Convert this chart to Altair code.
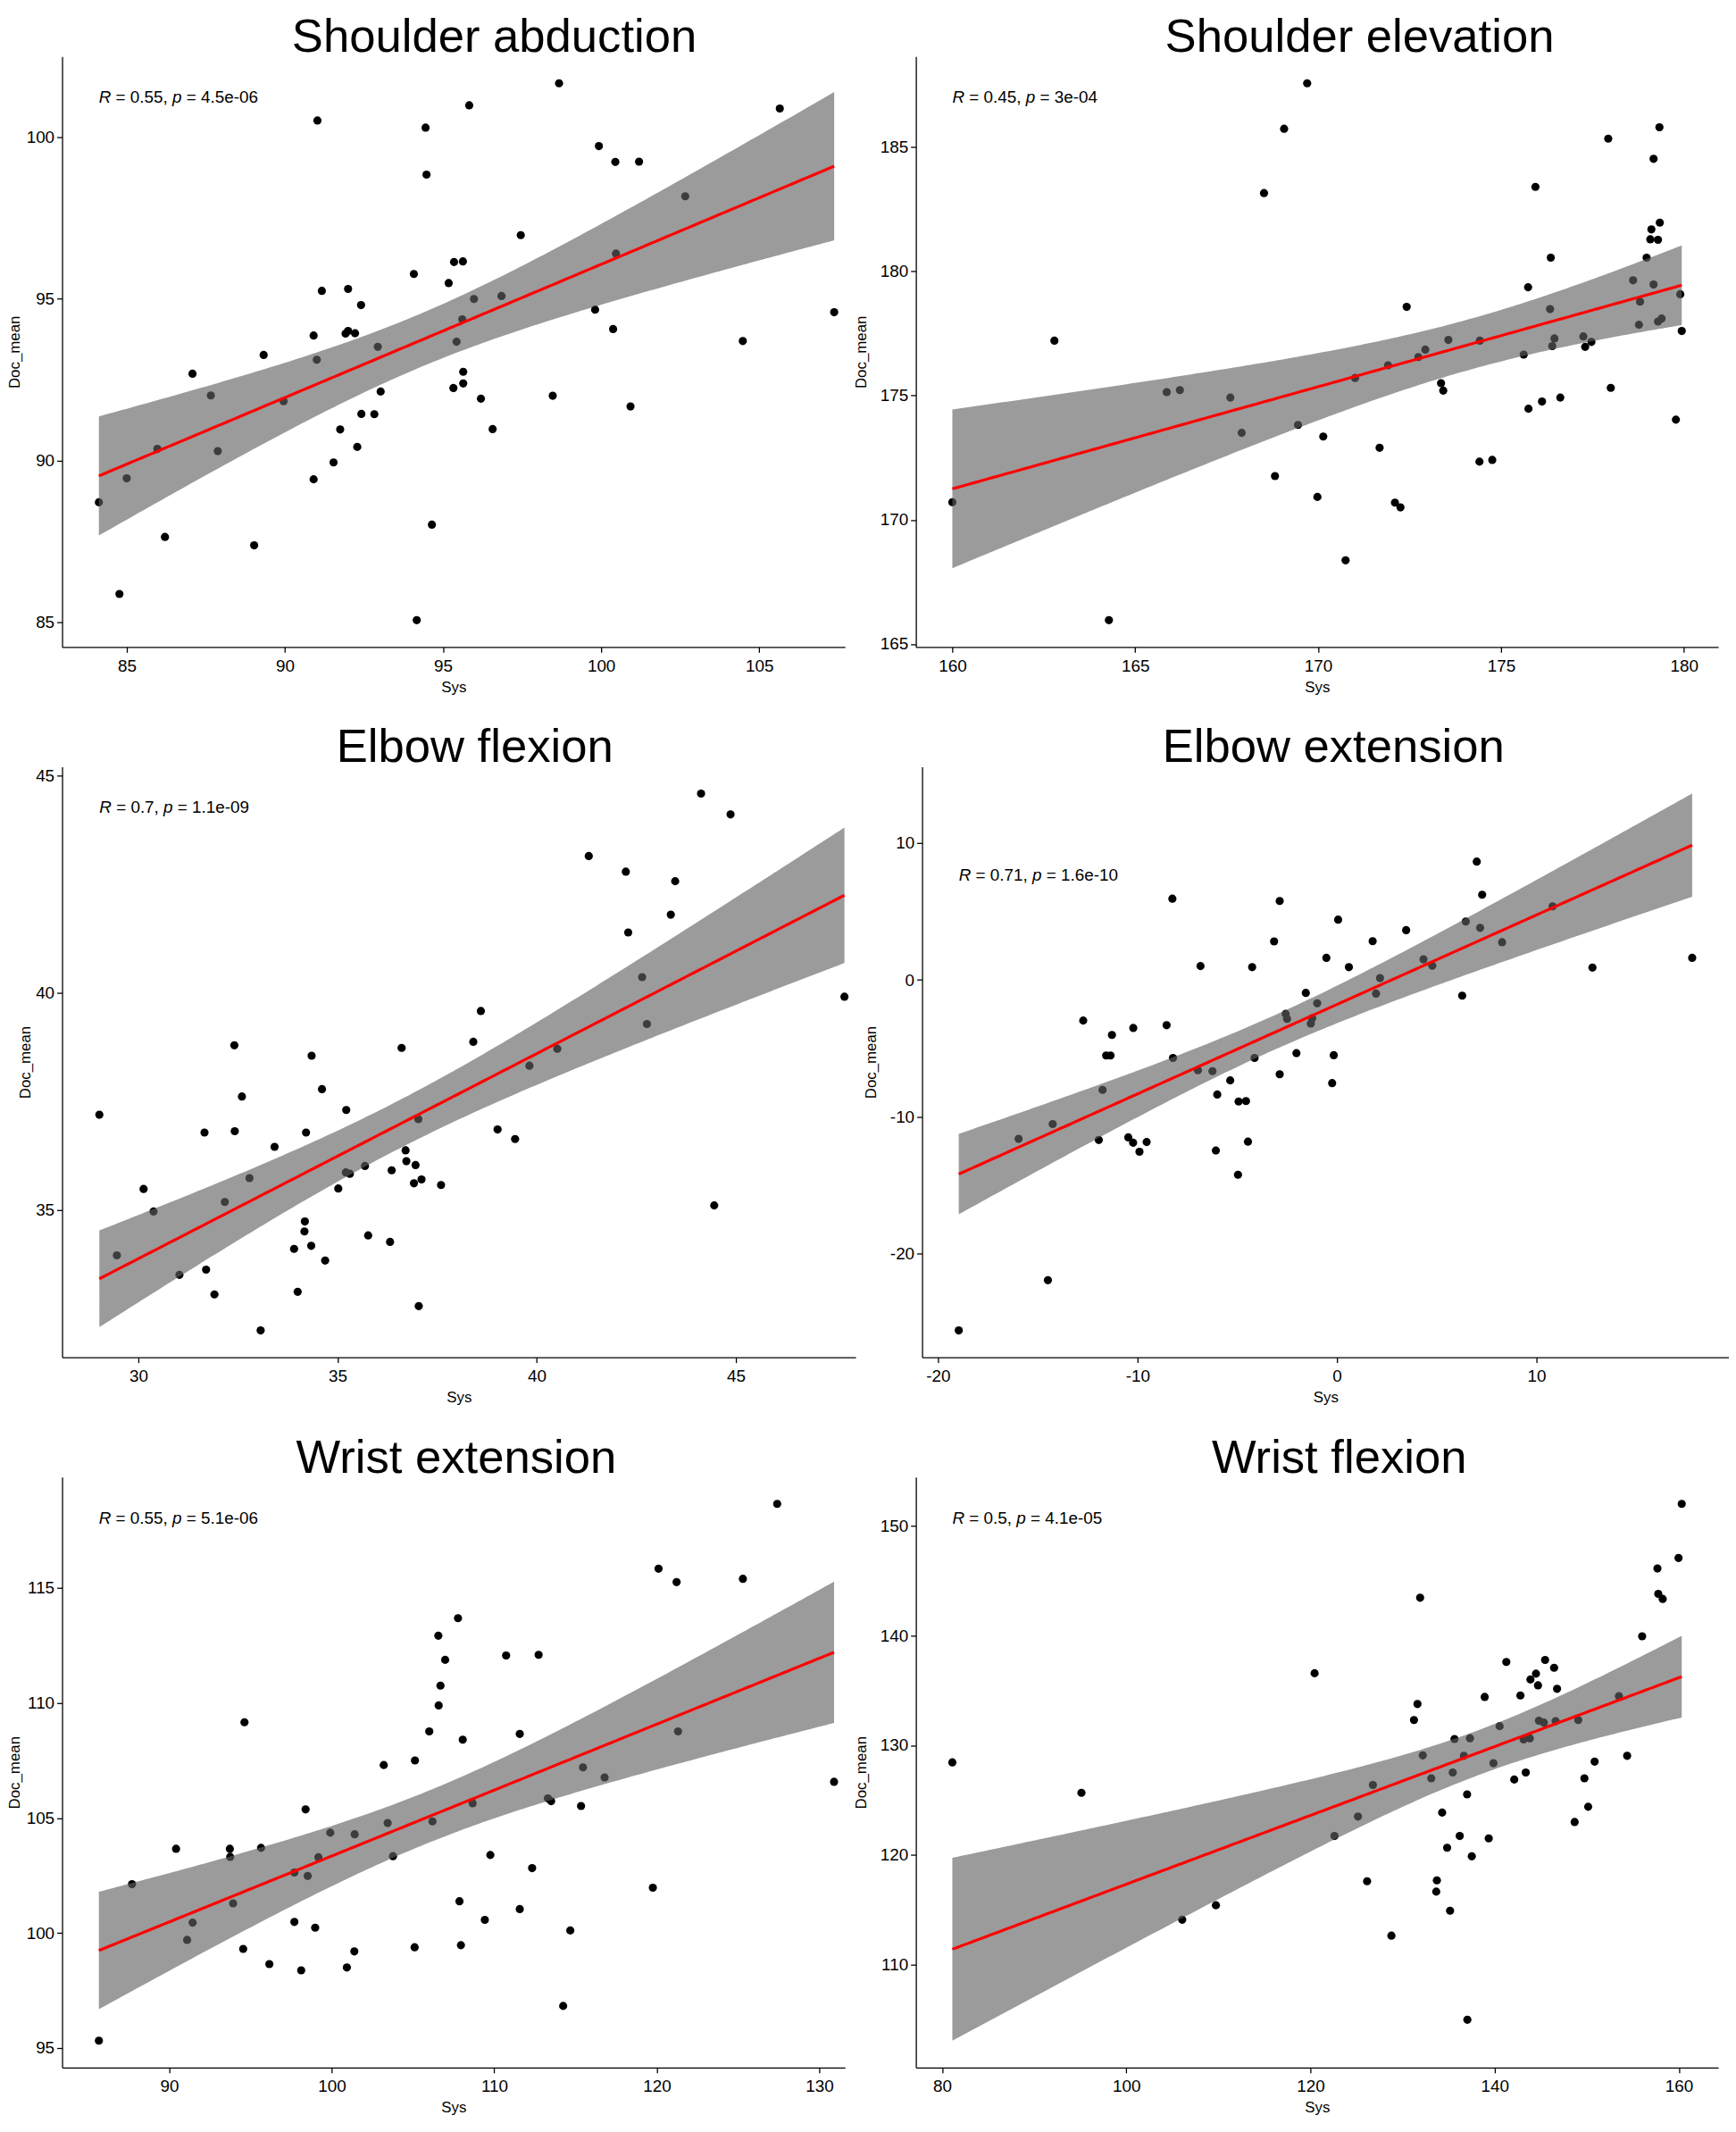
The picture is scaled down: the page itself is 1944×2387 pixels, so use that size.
import altair as alt
import numpy as np
import pandas as pd

FONT = "Liberation Sans"

TITLES = ["Shoulder abduction", "Shoulder elevation", "Elbow flexion",
          "Elbow extension", "Wrist extension", "Wrist flexion"]
R_VALUES = ["0.55", "0.45", "0.7", "0.71", "0.55", "0.5"]
P_VALUES = ["4.5e-06", "3e-04", "1.1e-09", "1.6e-10", "5.1e-06", "4.1e-05"]

X_TICKS = [[85, 90, 95, 100, 105], [160, 165, 170, 175, 180], [30, 35, 40, 45],
           [-20, -10, 0, 10], [90, 100, 110, 120, 130], [80, 100, 120, 140, 160]]
Y_TICKS = [[85, 90, 95, 100], [165, 170, 175, 180, 185], [35, 40, 45],
           [-20, -10, 0, 10], [95, 100, 105, 110, 115], [110, 120, 130, 140, 150]]
# the left-column panels are cut short on the right in the original figure
X_RIGHT_EDGE = [107.71, None, 48.01, None, 131.58, None]

sa_sys = [84.12, 84.77, 85.0, 85.97, 86.21, 87.08, 87.66, 87.88, 89.03, 89.33, 89.96, 90.91, 91.03, 91.01, 91.17,
          90.91, 91.54, 91.75, 91.92, 92.0, 92.22, 92.0, 92.29, 92.41, 92.42, 92.83, 92.94, 93.03, 94.08, 94.17,
          94.45, 94.48, 94.65, 95.18, 95.35, 95.63, 95.33, 95.43, 95.64, 95.64, 95.61, 95.83, 95.98, 96.2, 96.57,
          96.85, 97.46, 98.47, 98.67, 99.81, 99.93, 100.38, 100.45, 100.47, 100.93, 101.2, 102.66, 104.48, 105.65, 107.37]
sa_doc = [88.71, 85.88, 89.45, 90.36, 87.64, 92.68, 92.01, 90.29, 87.38, 93.26, 91.83, 93.86, 100.5, 93.11, 95.24,
          89.42, 89.94, 90.96, 93.92, 94.0, 93.93, 95.30, 90.42, 94.80, 91.44, 91.43, 93.51, 92.13, 95.76, 85.07,
          100.28, 98.83, 88.02, 95.48, 96.13, 96.15, 92.24, 93.67, 92.74, 92.38, 94.36, 100.97, 94.99, 91.91, 90.97,
          95.08, 96.96, 92.0, 101.65, 94.66, 99.71, 94.06, 99.22, 96.39, 91.67, 99.23, 98.16, 93.69, 100.87, 94.58]

se_sys = [160.0, 162.79, 164.28, 165.86, 166.22, 167.6, 167.91, 168.52, 168.82, 169.07, 169.45, 169.7, 169.98, 170.14,
          170.75, 171.01, 171.68, 171.91, 172.1, 172.25, 172.42, 172.74, 172.93, 173.36, 173.42, 173.56, 174.41, 174.42,
          174.76, 175.62, 175.74, 175.75, 175.94, 176.12, 176.34, 176.36, 176.4, 176.46, 176.62, 177.25, 177.3, 177.47,
          177.93, 178.0, 178.61, 178.77, 178.8, 178.98, 179.08, 179.11, 179.17, 179.17, 179.29, 179.29, 179.33, 179.34,
          179.39, 179.78, 179.9, 179.94]
se_doc = [170.71, 177.21, 165.96, 175.14, 175.22, 174.92, 173.5, 183.15, 171.76, 185.74, 173.82, 187.57, 170.92, 173.35,
          168.37, 175.71, 172.9, 176.22, 170.69, 170.5, 178.57, 176.55, 176.85, 175.5, 175.2, 177.24, 172.34, 177.21,
          172.41, 176.65, 179.36, 174.47, 183.4, 174.76, 178.48, 180.55, 176.99, 177.3, 174.92, 177.38, 176.96, 177.16,
          185.34, 175.31, 179.64, 177.85, 178.78, 180.55, 181.29, 181.69, 184.53, 179.47, 181.27, 177.98, 185.8, 181.96,
          178.1, 174.03, 179.08, 177.6]

ef_sys = [29.02, 29.46, 30.13, 30.38, 31.03, 31.66, 31.7, 31.91, 32.17, 32.41, 32.42, 32.6, 32.79, 33.07, 33.42, 33.91,
          34.0, 34.18, 34.17, 34.21, 34.34, 34.35, 34.61, 34.69, 35.02, 35.22, 35.21, 35.31, 35.69, 35.77, 36.32, 36.36,
          36.61, 36.71, 36.73, 36.96, 36.92, 37.03, 37.04, 37.11, 37.6, 38.41, 38.6, 39.02, 39.46, 39.82, 40.52, 41.31,
          42.24, 42.3, 42.65, 42.77, 43.37, 43.48, 44.13, 44.46, 44.87, 47.73]
ef_doc = [37.19, 33.95, 35.48, 34.96, 33.5, 36.78, 33.62, 33.05, 35.18, 38.79, 36.81, 37.61, 35.73, 32.22, 36.45, 34.1,
          33.11, 34.73, 34.5, 36.78, 34.17, 38.55, 37.78, 33.83, 35.49, 37.3, 35.86, 35.83, 36.01, 34.41, 34.26, 35.91,
          38.73, 36.37, 36.12, 36.03, 35.61, 37.09, 32.78, 35.7, 35.57, 38.87, 39.58, 36.85, 36.63, 38.32, 38.71, 43.15,
          42.79, 41.39, 40.36, 39.28, 41.8, 42.57, 44.59, 35.1, 44.11, 39.91]

ee_sys = [-18.96, -15.96, -14.49, -14.25, -12.72, -11.94, -11.75, -11.57, -11.35, -11.28, -10.46, -10.22, -10.21, -9.9,
          -9.54, -8.54, -8.25, -8.22, -6.97, -6.84, -6.24, -6.07, -6.0, -5.35, -4.96, -4.93, -4.56, -4.46, -4.25, -4.13,
          -3.15, -2.87, -2.87, -2.57, -2.5, -2.03, -1.56, -1.31, -1.24, -0.99, -0.53, -0.24, -0.16, 0.06, 0.6, 1.79,
          1.96, 2.16, 3.47, 4.34, 4.78, 6.28, 6.46, 7.01, 7.18, 7.28, 8.28, 10.81, 12.81, 17.81]
ee_doc = [-25.6, -11.61, -21.93, -10.53, -2.97, -11.69, -8.03, -5.52, -5.52, -4.02, -11.5, -11.89, -3.51, -12.55,
          -11.84, -3.31, 5.93, -5.7, -6.6, 1.01, -6.66, -12.46, -8.37, -7.34, -14.23, -8.88, -8.85, -11.81, 0.93, -5.7,
          2.81, -6.89, 5.76, -2.48, -2.85, -5.35, -0.95, -3.19, -2.8, -1.71, 1.61, -7.54, -5.5, 4.4, 0.93, 2.83,
          -1.0, 0.13, 3.63, 1.5, 1.04, -1.15, 4.26, 8.64, 3.8, 6.22, 2.75, 5.37, 0.9, 1.61]

we_sys = [85.67, 87.71, 90.42, 91.1, 91.44, 93.73, 93.75, 93.93, 94.55, 94.63, 95.65, 96.16, 97.7, 97.7, 98.12, 98.39,
          98.52, 98.98, 99.18, 99.91, 100.93, 101.39, 101.41, 103.2, 103.44, 103.77, 105.1, 105.12, 106.0, 106.2,
          106.56, 106.58, 106.69, 106.98, 107.77, 107.86, 107.95, 108.06, 108.67, 109.42, 109.76, 110.73, 111.57,
          111.57, 112.33, 112.73, 113.3, 113.5, 114.24, 114.68, 115.34, 115.46, 116.79, 119.76, 120.11, 121.22,
          121.31, 125.3, 127.41, 130.91]
we_doc = [95.32, 102.12, 103.66, 99.7, 100.45, 103.66, 103.31, 101.29, 99.31, 109.16, 103.7, 98.65, 102.63, 100.48,
          98.38, 105.37, 102.48, 100.23, 103.29, 104.36, 98.5, 99.2, 104.29, 107.3, 104.78, 103.34, 99.38, 107.5,
          108.76, 104.85, 112.92, 109.89, 110.75, 111.87, 113.68, 101.38, 99.47, 108.4, 105.64, 100.57, 103.39,
          112.06, 108.65, 101.04, 102.82, 112.09, 105.85, 105.73, 96.83, 100.11, 105.52, 107.2, 106.76, 101.97,
          115.83, 115.25, 108.76, 115.39, 118.65, 106.57]

wf_sys = [81.11, 95.13, 106.07, 109.73, 120.45, 122.61, 125.16, 126.15, 126.78, 128.79, 131.24, 131.62, 131.91, 132.2,
          133.12, 133.73, 133.66, 134.3, 134.84, 135.16, 135.45, 135.64, 136.21, 136.66, 137.01, 137.04, 137.32,
          137.52, 138.92, 139.36, 139.87, 140.54, 141.27, 142.13, 142.8, 143.15, 143.38, 143.82, 143.89, 144.49,
          144.71, 144.81, 145.35, 145.48, 146.46, 146.62, 146.78, 148.69, 149.08, 149.75, 150.16, 150.86, 153.5,
          154.39, 156.02, 157.68, 157.77, 158.25, 159.97, 160.32]
wf_doc = [128.44, 125.67, 114.11, 115.43, 136.56, 121.74, 123.51, 117.62, 126.38, 112.66, 132.3, 133.76, 143.44,
          129.08, 126.99, 117.7, 116.67, 123.87, 120.67, 114.93, 127.52, 130.57, 121.74, 129.04, 125.53, 105.0,
          130.64, 119.89, 134.4, 121.52, 128.37, 131.74, 137.59, 126.88, 134.54, 130.53, 127.52, 130.64, 135.99,
          136.52, 135.46, 132.23, 132.06, 137.77, 137.06, 132.2, 135.14, 123.01, 132.3, 126.99, 124.4, 128.51,
          134.47, 129.04, 139.93, 146.1, 143.79, 143.33, 147.06, 151.99]

SYS = [sa_sys, se_sys, ef_sys, ee_sys, we_sys, wf_sys]
DOC = [sa_doc, se_doc, ef_doc, ee_doc, we_doc, wf_doc]

# layout / style per panel: plot width, y-axis label extent, y title padding, title dx
WIDTHS = [883, 905, 895, 910, 883, 905]
Y_EXTENT = [40, 47, 28, 42, 40, 47]
Y_TPAD = [4, 6, 4, 6, 4, 6]
TITLE_DX = [46, 48, 18, 9, 3, 25]
HEIGHT = 666
ANN_SIZE = 19
TITLE_SIZE = 53

# Arial / Liberation Sans advance widths (em)
ADV = {'0': .556, '1': .556, '2': .556, '3': .556, '4': .556, '5': .556, '6': .556, '7': .556,
       '8': .556, '9': .556, '.': .278, ',': .278, ' ': .278, '=': .584, '-': .333, 'e': .556,
       'R': .722, 'p': .556}


def tw(s):
    return sum(ADV.get(c, .556) for c in s) * ANN_SIZE


def tq(df):
    z = 1.959964
    g1 = (z ** 3 + z) / 4
    g2 = (5 * z ** 5 + 16 * z ** 3 + 3 * z) / 96
    g3 = (3 * z ** 7 + 19 * z ** 5 + 17 * z ** 3 - 15 * z) / 384
    return z + g1 / df + g2 / df ** 2 + g3 / df ** 3


def panel(i):
    xs = np.array(SYS[i], dtype=float)
    ys = np.array(DOC[i], dtype=float)
    n = len(xs)
    df = pd.DataFrame({"Sys": xs, "Doc_mean": ys})
    xmin, xmax, ymin, ymax = xs.min(), xs.max(), ys.min(), ys.max()

    b, a = np.polyfit(xs, ys, 1)
    resid = ys - (a + b * xs)
    s = np.sqrt((resid ** 2).sum() / (n - 2))
    xm = xs.mean()
    sxx = ((xs - xm) ** 2).sum()
    grid = np.linspace(xmin, xmax, 160)
    fit = a + b * grid
    se = s * np.sqrt(1.0 / n + (grid - xm) ** 2 / sxx)
    t = tq(n - 2)
    lo, hi = fit - t * se, fit + t * se
    band = pd.DataFrame({"Sys": grid, "fit": fit, "lo": lo, "hi": hi})

    # scale ranges cover points and ribbon, expanded 5 % (ggplot default)
    xr = xmax - xmin
    ylo, yhi = min(ymin, lo.min()), max(ymax, hi.max())
    yr = yhi - ylo
    xdom = [xmin - 0.05 * xr, X_RIGHT_EDGE[i] if X_RIGHT_EDGE[i] is not None else xmax + 0.05 * xr]
    ydom = [ylo - 0.05 * yr, yhi + 0.05 * yr]

    xscale = alt.Scale(domain=xdom, nice=False, zero=False)
    yscale = alt.Scale(domain=ydom, nice=False, zero=False)
    xaxis = alt.Axis(values=X_TICKS[i], title="Sys", labelExpr="'' + datum.value",
                     labelPadding=6, titlePadding=6)
    yaxis = alt.Axis(values=Y_TICKS[i], title="Doc_mean", labelExpr="'' + datum.value",
                     minExtent=Y_EXTENT[i], maxExtent=Y_EXTENT[i], titlePadding=Y_TPAD[i])
    X = alt.X("Sys:Q", scale=xscale, axis=xaxis, title="Sys")

    pts = alt.Chart(df).mark_circle(size=85, color="black", opacity=1, strokeWidth=0).encode(
        x=X, y=alt.Y("Doc_mean:Q", scale=yscale, axis=yaxis, title="Doc_mean"))
    area = alt.Chart(band).mark_area(color="#606060", opacity=0.63).encode(
        x=X, y=alt.Y("lo:Q", scale=yscale, axis=yaxis, title="Doc_mean"), y2="hi:Q")
    line = alt.Chart(band).mark_line(color="#ff0000", strokeWidth=3.2).encode(
        x=X, y=alt.Y("fit:Q", scale=yscale, axis=yaxis, title="Doc_mean"))

    ann_df = pd.DataFrame({"Sys": [xmin], "Doc_mean": [ymax]})
    r, p = R_VALUES[i], P_VALUES[i]
    segs = [("R", "italic", 0.0),
            ("= " + r + ",", "normal", tw("R ")),
            ("p", "italic", tw("R = " + r + ", ")),
            ("= " + p, "normal", tw("R = " + r + ", p "))]
    texts = []
    for txt, style, dx in segs:
        texts.append(alt.Chart(ann_df).mark_text(
            text=txt, align="left", baseline="top", dx=dx, dy=7, fontSize=ANN_SIZE, font=FONT,
            fontStyle=style, color="black").encode(
            x=X, y=alt.Y("Doc_mean:Q", scale=yscale, axis=yaxis, title="Doc_mean")))

    return alt.layer(pts, area, line, *texts).properties(
        width=WIDTHS[i], height=HEIGHT,
        title=alt.TitleParams(TITLES[i], dx=TITLE_DX[i], fontSize=TITLE_SIZE, font=FONT, fontWeight="normal",
                              anchor="middle", frame="group", color="black", offset=-6))


rows = [alt.hconcat(panel(2 * k), panel(2 * k + 1), spacing=9) for k in range(3)]
chart = alt.vconcat(*rows, spacing=35).properties(
    padding={"left": 0, "top": 0, "right": 0, "bottom": 0}
).configure_view(stroke=None).configure_axis(
    grid=False, domainColor="black", domainWidth=1.3, tickColor="black", tickWidth=1.3, tickSize=6,
    labelColor="black", labelFont=FONT, labelFontSize=19, labelPadding=3,
    titleColor="black", titleFont=FONT, titleFontSize=17, titleFontWeight="normal"
)

chart.save("out.html", embed_options={"renderer": "svg", "actions": False})
